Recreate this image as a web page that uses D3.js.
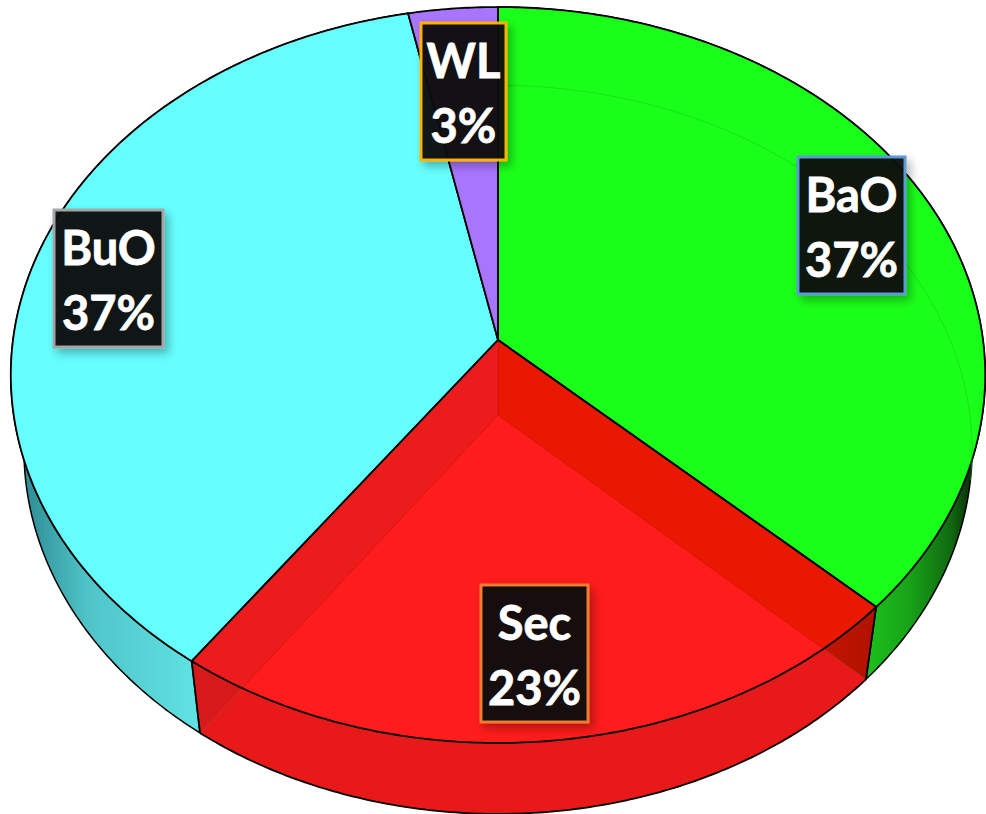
<!DOCTYPE html>
<html lang="en">
<head>
  <meta charset="UTF-8">
  <title>Pie</title>
  <style>
    body { margin: 0; background: #fff; overflow: hidden; }
    text { font-family: Lato, sans-serif; font-weight: 700; fill: #fff; stroke: #fff; stroke-width: 0.8; text-anchor: middle; }
  </style>
</head>
<body>
  <script src="https://d3js.org/d3.v7.min.js"></script>
  <script>
    // slices, clockwise from 12 o'clock
    const categories = ["BaO", "Sec", "BuO", "WL"];
    const shares = [37, 22.9, 36.85, 3.25];
    const topColors = ["#1aff1a", "#ff1c1c", "#66ffff", "#a875ff"];
    const boxStrokes = ["#5b9bd5", "#ed7d31", "#a5a5a5", "#ffb000"];

    // label box top-left corner, same order as categories
    const boxLeft = [798, 481, 54, 421];
    const boxTop = [157, 585, 210, 23];
    const boxWidth = [107, 107, 109, 85];
    const boxHeight = 137;

    const width = 986, height = 814;

    const svg = d3.select("body").append("svg")
      .attr("width", width)
      .attr("height", height)
      .style("display", "block");

    // tilted disc: perspective projection of a unit circle
    const cx = 498, cy = 340, rx = 485, ry = 332.3, tilt = 0.0951;
    function project(angle, r, z) {
      const u = Math.sin(angle) * r, v = -Math.cos(angle) * r;
      const w = 1 - tilt * v;
      let x = cx + rx * u / w;
      let y = (cy + ry * v) / w;
      if (z) {
        x = cx + (x - cx) * (1 - 0.027 * z);
        y = y + (75 - 0.01 * (y - cy)) * z;
      }
      return [x, y];
    }

    const arcs = d3.pie().sort(null).value(d => d)(shares);
    const line = d3.line();

    function rim(a0, a1, z) {
      const n = Math.max(2, Math.ceil((a1 - a0) / 0.01));
      return d3.range(n + 1).map(i => project(a0 + (a1 - a0) * i / n, 1, z));
    }
    const topFace = d => line([project(0, 0, 0), ...rim(d.startAngle, d.endAngle, 0)]) + "Z";
    const floorFace = d => line([project(0, 0, 1), ...rim(d.startAngle, d.endAngle, 1)]) + "Z";
    const outerWall = d => line([...rim(d.startAngle, d.endAngle, 0), ...rim(d.startAngle, d.endAngle, 1).reverse()]) + "Z";
    const radialWall = a => line([project(0, 0, 0), project(a, 1, 0), project(a, 1, 1), project(0, 0, 1)]) + "Z";

    // gradients for the side walls
    const defs = svg.append("defs");
    function gradient(id, x1, x2, stops) {
      const g = defs.append("linearGradient").attr("id", id)
        .attr("gradientUnits", "userSpaceOnUse")
        .attr("x1", x1).attr("x2", x2).attr("y1", 0).attr("y2", 0);
      stops.forEach(s => g.append("stop").attr("offset", s[0]).attr("stop-color", s[1]).attr("stop-opacity", s[2]));
    }
    gradient("wallBlue", 24, 205, [[0, "#2e8c94", 1], [0.35, "#4fc4c8", 1], [1, "#62e4e4", 1]]);
    gradient("wallGreen", 866, 972, [[0, "#1cc01c", 1], [0.4, "#18a418", 1], [0.8, "#116a11", 1], [1, "#0a2c0a", 1]]);
    gradient("overlapRed", 810, 870, [[0, "#000", 0.06], [1, "#000", 0.16]]);

    const shadow = defs.append("filter").attr("id", "boxShadow")
      .attr("x", "-20%").attr("y", "-20%").attr("width", "150%").attr("height", "150%");
    shadow.append("feDropShadow").attr("dx", 4).attr("dy", 5).attr("stdDeviation", 5)
      .attr("flood-color", "#000").attr("flood-opacity", 0.3);

    // outer walls of the solid slices
    svg.append("path").attr("d", outerWall(arcs[0])).attr("fill", "url(#wallGreen)").attr("stroke", "#000").attr("stroke-width", 1.5);
    svg.append("path").attr("d", outerWall(arcs[2])).attr("fill", "url(#wallBlue)").attr("stroke", "#000").attr("stroke-width", 1.5);

    // top faces
    svg.selectAll("path.top")
      .data(arcs)
      .enter().append("path")
      .attr("class", "top")
      .attr("d", topFace)
      .attr("fill", (d, i) => topColors[i])
      .attr("stroke", "#000")
      .attr("stroke-width", 1.8);

    // lower rim showing through the green slice
    svg.append("path")
      .attr("d", line(rim(arcs[0].startAngle, 1.75, 1)))
      .attr("fill", "none").attr("stroke", "#10c810").attr("stroke-opacity", 0.5).attr("stroke-width", 1);

    // the Sec slice is see-through: floor, inner walls, then outer wall over them
    const sec = arcs[1];
    const secGroup = svg.append("g");
    secGroup.append("path").attr("d", floorFace(sec)).attr("fill", topColors[1]);
    secGroup.append("path").attr("d", topFace(sec)).attr("fill", topColors[1]);
    secGroup.append("path").attr("d", radialWall(sec.startAngle)).attr("fill", "#e81900")
      .attr("stroke", "#c81000").attr("stroke-opacity", 0.5).attr("stroke-width", 1);
    secGroup.append("path").attr("d", radialWall(sec.endAngle)).attr("fill", "#ec1c1c")
      .attr("stroke", "#c81000").attr("stroke-opacity", 0.5).attr("stroke-width", 1);
    secGroup.append("path").attr("d", outerWall(sec)).attr("fill", "#000").attr("fill-opacity", 0.09);

    // extra shade where the outer wall crosses the right inner wall
    defs.append("clipPath").attr("id", "secWall").append("path").attr("d", outerWall(sec));
    secGroup.append("path").attr("d", radialWall(sec.startAngle))
      .attr("fill", "url(#overlapRed)").attr("clip-path", "url(#secWall)");

    // black edges on top of the see-through slice
    const edges = [
      line([project(sec.startAngle, 1, 0), project(0, 0, 0), project(sec.endAngle, 1, 0)]),
      line(rim(sec.startAngle, sec.endAngle, 0)),
      line(rim(sec.startAngle, sec.endAngle, 1)),
      line([project(sec.startAngle, 1, 0), project(sec.startAngle, 1, 1)]),
      line([project(sec.endAngle, 1, 0), project(sec.endAngle, 1, 1)])
    ];
    svg.selectAll("path.edge")
      .data(edges)
      .enter().append("path")
      .attr("class", "edge")
      .attr("d", d => d)
      .attr("fill", "none").attr("stroke", "#000").attr("stroke-width", 1.8);

    // labels
    const labels = svg.selectAll("g.label")
      .data(arcs)
      .enter().append("g")
      .attr("class", "label")
      .attr("transform", (d, i) => `translate(${boxLeft[i]},${boxTop[i]})`);
    labels.append("rect")
      .attr("width", (d, i) => boxWidth[i])
      .attr("height", boxHeight)
      .attr("fill", "#0a0a0c")
      .attr("fill-opacity", 0.95)
      .attr("stroke", (d, i) => boxStrokes[i])
      .attr("stroke-width", 3)
      .attr("filter", "url(#boxShadow)");
    labels.append("text")
      .attr("x", (d, i) => boxWidth[i] / 2)
      .attr("y", 55)
      .attr("font-size", 47)
      .text((d, i) => categories[i]);
    labels.append("text")
      .attr("x", (d, i) => boxWidth[i] / 2)
      .attr("y", 120)
      .attr("font-size", 47)
      .text(d => Math.round(d.value) + "%");
  </script>
</body>
</html>
